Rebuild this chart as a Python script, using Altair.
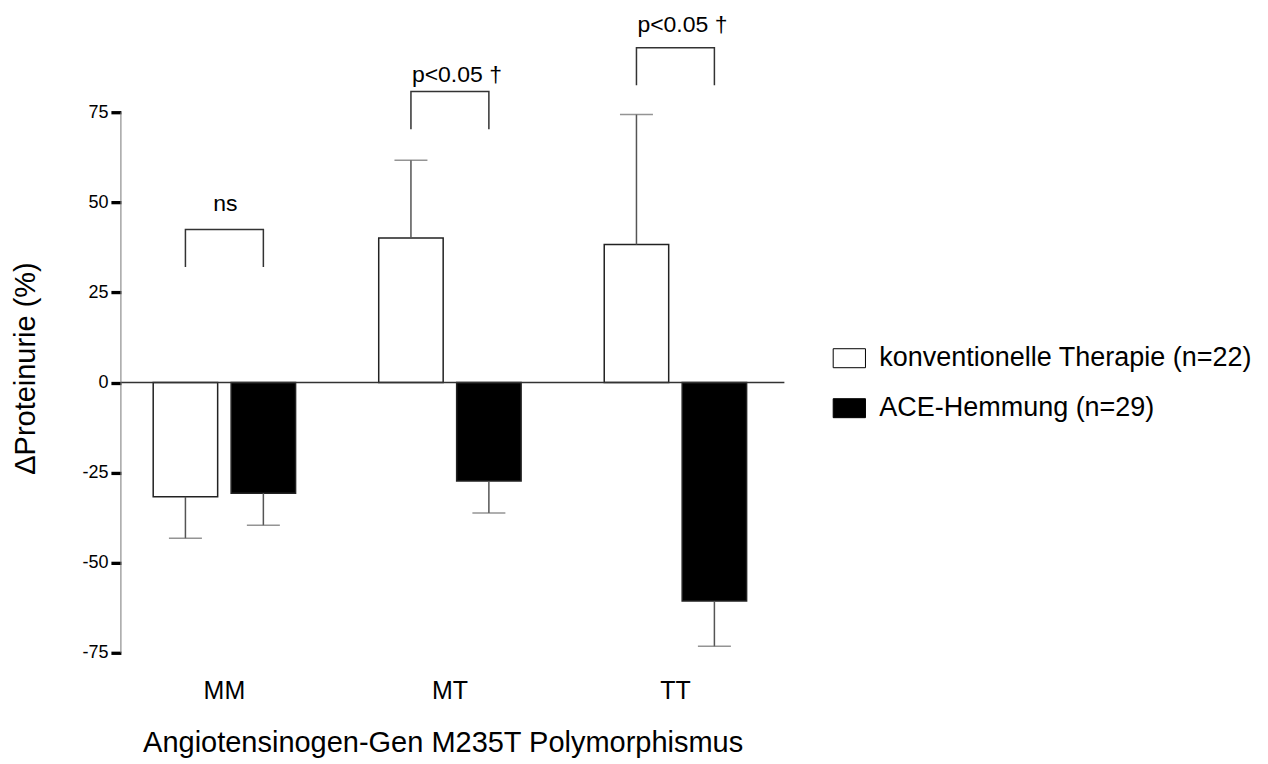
import altair as alt
import pandas as pd

groups = ["MM", "MT", "TT"]
treatments = ["konventionelle Therapie (n=22)", "ACE-Hemmung (n=29)"]

konv_mean = [-31.7, 40.1, 38.3]
konv_sem = [11.5, 21.6, 36.1]
ace_mean = [-30.7, -27.3, -60.6]
ace_sem = [8.9, 8.9, 12.6]

bracket_top = [42.5, 80.8, 92.9]
bracket_leg = [32.1, 70.3, 82.5]
sig_labels = ["ns", "p<0.05 †", "p<0.05 †"]
sig_label_y = [47.6, 83.4, 97.3]

y_ticks = [-75, -50, -25, 0, 25, 50, 75]

FONT = "Liberation Sans"

rows = []
for g, m, s in zip(groups, konv_mean, konv_sem):
    rows.append({"group": g, "treatment": treatments[0], "mean": m,
                 "err": m + s if m >= 0 else m - s})
for g, m, s in zip(groups, ace_mean, ace_sem):
    rows.append({"group": g, "treatment": treatments[1], "mean": m,
                 "err": m + s if m >= 0 else m - s})
bars_df = pd.DataFrame(rows)

br_rows = []
for g, top, leg in zip(groups, bracket_top, bracket_leg):
    br_rows += [
        {"group": g, "treatment": treatments[0], "y": leg, "seq": 0},
        {"group": g, "treatment": treatments[0], "y": top, "seq": 1},
        {"group": g, "treatment": treatments[1], "y": top, "seq": 2},
        {"group": g, "treatment": treatments[1], "y": leg, "seq": 3},
    ]
br_df = pd.DataFrame(br_rows)

lab_df = pd.DataFrame({"group": groups, "label": sig_labels, "y": sig_label_y})

y_scale = alt.Scale(domain=[-75, 100], nice=False, zero=False)
x_scale = alt.Scale(domain=groups, paddingInner=0.3686, paddingOuter=0.1553, align=0.461)
off_scale = alt.Scale(domain=treatments, paddingInner=0.173, paddingOuter=0)

x_enc = alt.X(
    "group:N", scale=x_scale, sort=groups,
    axis=alt.Axis(
        title="Angiotensinogen-Gen M235T Polymorphismus",
        domain=False, ticks=False, labelAngle=0,
        labelFontSize=25, labelFont=FONT, labelColor="black", labelPadding=26,
        titleFontSize=29, titleFont=FONT, titleFontWeight="normal", titleColor="black",
        titleX=322, titleY=99, titleBaseline="alphabetic", titleAlign="center",
    ),
)
xo_enc = alt.XOffset("treatment:N", scale=off_scale, sort=treatments)

y_axis = alt.Axis(
    title="ΔProteinurie (%)", values=y_ticks, domain=False, grid=False,
    tickColor="black", tickWidth=3.3, tickSize=10,
    labelFontSize=18, labelFont=FONT, labelColor="black", labelPadding=3,
    labelExpr="datum.value + ''",
    titleFontSize=29, titleFont=FONT, titleFontWeight="normal", titleColor="black",
    titleAngle=270, titleX=-95, titleY=346, titleAlign="center", titleBaseline="middle",
)

base = alt.Chart(bars_df)

bars = base.mark_bar(stroke="#222222", strokeWidth=1.5).encode(
    x=x_enc,
    xOffset=xo_enc,
    y=alt.Y("mean:Q", scale=y_scale, axis=y_axis),
    color=alt.Color(
        "treatment:N",
        scale=alt.Scale(domain=treatments, range=["white", "black"]),
        legend=alt.Legend(
            title=None, orient="none", legendX=715.5, legendY=322.7,
            symbolType="M-1.7,-1L1.7,-1L1.7,1L-1.7,1Z", symbolSize=361,
            symbolStrokeColor="black", symbolStrokeWidth=1,
            labelFontSize=27, labelFont=FONT, labelColor="black",
            labelOffset=16.5, rowPadding=22, padding=0, labelLimit=600,
        ),
    ),
)

err_rule = base.mark_rule(color="#555555", strokeWidth=1.5).encode(
    x=alt.X("group:N", scale=x_scale, sort=groups),
    xOffset=xo_enc,
    y=alt.Y("mean:Q", scale=y_scale),
    y2="err:Q",
)

err_cap = base.mark_tick(color="#666666", thickness=1.5, size=33, orient="horizontal").encode(
    x=alt.X("group:N", scale=x_scale, sort=groups),
    xOffset=xo_enc,
    y=alt.Y("err:Q", scale=y_scale),
)

zero_line = alt.Chart(pd.DataFrame({"v": [0]})).mark_rule(color="#333333", strokeWidth=1.5).encode(
    y=alt.Y("v:Q", scale=y_scale)
)

y_domain = alt.Chart(pd.DataFrame({"lo": [y_ticks[0]], "hi": [y_ticks[-1]]})).mark_rule(
    color="#777777", strokeWidth=1
).encode(
    x=alt.value(0),
    y=alt.Y("lo:Q", scale=y_scale),
    y2="hi:Q",
)

brackets = alt.Chart(br_df).mark_line(color="#333333", strokeWidth=1.5).encode(
    x=alt.X("group:N", scale=x_scale, sort=groups),
    xOffset=xo_enc,
    y=alt.Y("y:Q", scale=y_scale),
    detail="group:N",
    order="seq:Q",
)

ns_text = alt.Chart(lab_df[lab_df["label"] == "ns"]).mark_text(
    fontSize=23, font=FONT, color="black", baseline="alphabetic", dx=1
).encode(
    x=alt.X("group:N", scale=x_scale, sort=groups),
    y=alt.Y("y:Q", scale=y_scale),
    text="label:N",
)

p_text = alt.Chart(lab_df[lab_df["label"] != "ns"]).mark_text(
    fontSize=23, font=FONT, color="black", baseline="alphabetic", dx=7
).encode(
    x=alt.X("group:N", scale=x_scale, sort=groups),
    y=alt.Y("y:Q", scale=y_scale),
    text="label:N",
)

chart = alt.layer(
    bars, err_rule, err_cap, zero_line, y_domain, brackets, ns_text, p_text
).properties(
    width=664, height=631,
    padding={"left": 113, "top": 14, "right": 476, "bottom": 108},
    autosize=alt.AutoSizeParams(type="none"),
).configure(
    background="white",
    view=alt.ViewConfig(strokeWidth=0, stroke="transparent"),
)

chart.save("out.html", embed_options={"renderer": "svg", "actions": False})
